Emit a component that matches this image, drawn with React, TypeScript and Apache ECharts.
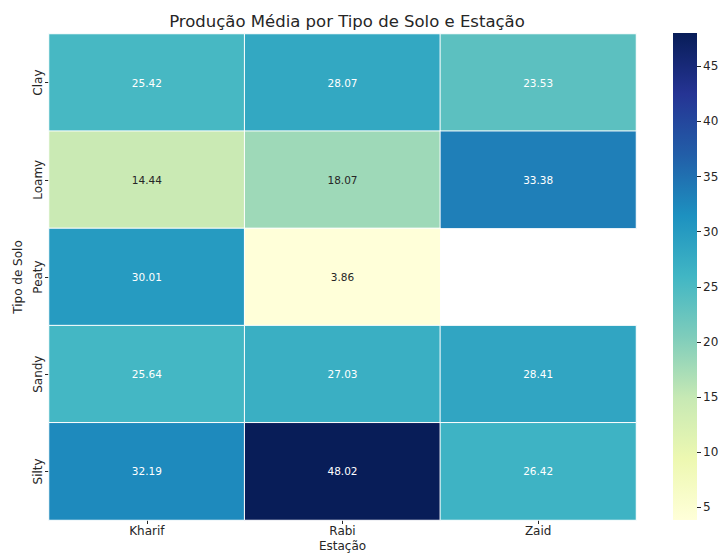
import React, { useEffect, useRef } from "react";
import * as echarts from "echarts";

const seasons = ["Kharif", "Rabi", "Zaid"];
const soils = ["Clay", "Loamy", "Peaty", "Sandy", "Silty"];
// values[soil][season]; null = no data
const clayValues = [25.42, 28.07, 23.53];
const loamyValues = [14.44, 18.07, 33.38];
const peatyValues = [30.01, 3.86, null];
const sandyValues = [25.64, 27.03, 28.41];
const siltyValues = [32.19, 48.02, 26.42];
const colorbarTicks = [5, 10, 15, 20, 25, 30, 35, 40, 45];
const vMin = 3.86;
const vMax = 48.02;

const ylgnbu = ["#ffffd9", "#edf8b1", "#c7e9b4", "#7fcdbb", "#41b6c4", "#1d91c0", "#225ea8", "#253494", "#081d58"];

export default function App() {
  const ref = useRef<HTMLDivElement>(null);
  useEffect(() => {
    if (!ref.current) return;
    const chart = echarts.init(ref.current, null, { renderer: "svg" });
    const rows = [clayValues, loamyValues, peatyValues, sandyValues, siltyValues];
    const data: any[] = [];
    rows.forEach((row, yi) => {
      row.forEach((v, xi) => {
        if (v === null) return;
        data.push({
          value: [xi, yi, v],
          label: { color: v < 20 ? "#262626" : "#ffffff" },
        });
      });
    });
    const font = "DejaVu Sans";
    const textColor = "#262626";
    chart.setOption({
      animation: false,
      backgroundColor: "#ffffff",
      textStyle: { fontFamily: font },
      title: {
        text: "Produção Média por Tipo de Solo e Estação",
        left: 342,
        textAlign: "center",
        top: 8,
        textStyle: { fontFamily: font, fontSize: 16.5, fontWeight: "normal", color: textColor },
      },
      grid: [
        { left: 49, right: 84, top: 34, bottom: 33, outerBoundsMode: "none", containLabel: false },
        { left: 673, width: 24, top: 33, bottom: 33, outerBoundsMode: "none", containLabel: false },
      ],
      xAxis: [
        {
          type: "category",
          gridIndex: 0,
          data: seasons,
          name: "Estação",
          nameLocation: "middle",
          nameGap: 19,
          nameMoveOverlap: false,
          nameTextStyle: { fontFamily: font, fontSize: 12, color: textColor, lineHeight: 14 },
          axisLine: { show: false },
          axisTick: { show: true, alignWithLabel: true, length: 4, lineStyle: { color: textColor } },
          axisLabel: { fontFamily: font, fontSize: 12, color: textColor, margin: 5 },
          splitLine: { show: false },
        },
        {
          type: "category",
          gridIndex: 1,
          data: ["cb"],
          show: false,
        },
      ],
      yAxis: [
        {
          type: "category",
          gridIndex: 0,
          data: soils,
          inverse: true,
          name: "Tipo de Solo",
          nameLocation: "middle",
          nameGap: 23,
          nameRotate: 90,
          nameTextStyle: { fontFamily: font, fontSize: 12, color: textColor },
          axisLine: { show: false },
          axisTick: { show: true, alignWithLabel: true, length: 4, lineStyle: { color: textColor } },
          axisLabel: { fontFamily: font, fontSize: 12, color: textColor, rotate: 90, margin: 5 },
          splitLine: { show: false },
        },
        {
          type: "value",
          gridIndex: 1,
          min: vMin,
          max: vMax,
          position: "right",
          axisLine: { show: false },
          splitLine: { show: false },
          axisTick: { show: true, length: 4, lineStyle: { color: textColor }, customValues: colorbarTicks },
          axisLabel: { fontFamily: font, fontSize: 12, color: textColor, margin: 6, customValues: colorbarTicks },
        },
      ],
      visualMap: {
        show: false,
        type: "continuous",
        min: vMin,
        max: vMax,
        seriesIndex: 0,
        dimension: 2,
        inRange: { color: ylgnbu },
      },
      series: [
        {
          type: "heatmap",
          xAxisIndex: 0,
          yAxisIndex: 0,
          data,
          itemStyle: { borderColor: "#ffffff", borderWidth: 1 },
          label: {
            show: true,
            fontFamily: font,
            fontSize: 10.5,
            formatter: (p: any) => p.value[2].toFixed(2),
          },
          emphasis: { disabled: true },
        },
        {
          type: "custom",
          xAxisIndex: 1,
          yAxisIndex: 1,
          data: [[0, vMin, vMax]],
          renderItem: (params: any, api: any) => {
            const bottom = api.coord([0, api.value(1)]);
            const top = api.coord([0, api.value(2)]);
            const w = params.coordSys.width;
            const x = params.coordSys.x;
            return {
              type: "rect",
              shape: { x, y: top[1], width: w, height: bottom[1] - top[1] },
              style: {
                fill: new echarts.graphic.LinearGradient(
                  0, 1, 0, 0,
                  ylgnbu.map((c, i) => ({ offset: i / (ylgnbu.length - 1), color: c }))
                ),
              },
            };
          },
        },
      ],
    });
    return () => chart.dispose();
  }, []);
  return <div ref={ref} style={{ width: 720, height: 553, position: "absolute", left: 0, top: 0 }} />;
}
